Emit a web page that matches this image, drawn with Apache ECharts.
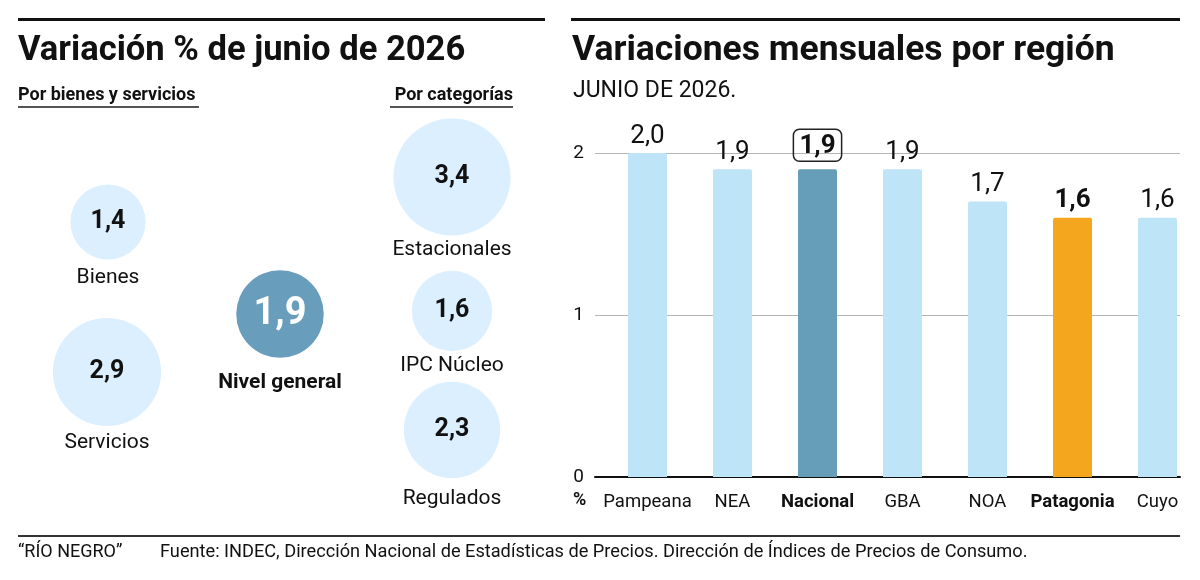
<!DOCTYPE html>
<html>
<head>
<meta charset="utf-8">
<script src="https://cdn.jsdelivr.net/npm/echarts@6/dist/echarts.min.js"></script>
<style>
html,body{margin:0;padding:0;background:#fff;}
#c{width:1200px;height:580px;}
</style>
</head>
<body>
<div id="c"></div>
<script>
// ---------- DATA ----------
var bubbleNames = ['Bienes', 'Servicios', 'Nivel general', 'Estacionales', 'IPC Núcleo', 'Regulados'];
var bubbleValues = [1.4, 2.9, 1.9, 3.4, 1.6, 2.3];

var regions = ['Pampeana', 'NEA', 'Nacional', 'GBA', 'NOA', 'Patagonia', 'Cuyo'];
var regionValues = [2.0, 1.9, 1.9, 1.9, 1.7, 1.6, 1.6];

var yTicks = [0, 1, 2];

// ---------- LAYOUT (positions in page pixels, not data) ----------
var bubbleLayout = [
  {x: 108, y: 222, gap: 8},
  {x: 107, y: 372, gap: 6},
  {x: 280, y: 314, gap: 14},
  {x: 452, y: 177, gap: 4},
  {x: 452, y: 311, gap: 4},
  {x: 452, y: 430, gap: 10}
];
var bubbleScale = 63.5; // diameter = scale * sqrt(value)
var mainBubble = 'Nivel general';
var highlight = {
  'Nacional': {color: '#669db9', boxed: true},
  'Patagonia': {color: '#f3a61e', boxed: false}
};
var baseBar = '#bee4f8';
var FONT = 'Roboto';

function fmt(v) { return v.toFixed(1).replace('.', ','); }

var bubbleData = bubbleNames.map(function (n, i) {
  var v = bubbleValues[i];
  var d = bubbleScale * Math.sqrt(v);
  var main = n === mainBubble;
  return {
    name: n,
    value: [bubbleLayout[i].x, bubbleLayout[i].y, v],
    symbolSize: d,
    itemStyle: {color: main ? '#689dbb' : '#dcefff', opacity: 1},
    label: {
      color: main ? '#ffffff' : '#111',
      fontSize: main ? 38 : 25
    }
  };
});
var bubbleNameData = bubbleNames.map(function (n, i) {
  var v = bubbleValues[i];
  var d = bubbleScale * Math.sqrt(v);
  var main = n === mainBubble;
  return {
    name: n,
    value: [bubbleLayout[i].x, bubbleLayout[i].y, v],
    symbolSize: d,
    label: {
      distance: bubbleLayout[i].gap,
      fontWeight: main ? 'bold' : 'normal'
    }
  };
});

var barData = regions.map(function (r, i) {
  var h = highlight[r];
  var item = {value: regionValues[i], itemStyle: {color: h ? h.color : baseBar}};
  if (h) {
    item.label = {fontWeight: 'bold'};
    if (h.boxed) {
      item.label = {
        fontWeight: 'bold',
        borderColor: '#222', borderWidth: 1.5, borderRadius: 6,
        padding: [4, 6, 2, 6], distance: 8
      };
    }
  }
  return item;
});

var chart = echarts.init(document.getElementById('c'));
chart.setOption({
  backgroundColor: '#fff',
  animation: false,
  textStyle: {fontFamily: FONT},
  grid: [
    {left: 0, top: 0, width: 1200, height: 580},          // bubbles (pixel space)
    {left: 605, width: 600, top: 153, bottom: 103},        // bars
    {left: 595, right: 20, top: 153, bottom: 103}          // gridlines / y labels
  ],
  xAxis: [
    {gridIndex: 0, type: 'value', min: 0, max: 1200, show: false},
    {gridIndex: 1, type: 'category', data: regions,
      axisLine: {show: false}, axisTick: {show: false},
      axisLabel: {
        interval: 0, margin: 16, fontSize: 18.5, color: '#111', fontFamily: FONT,
        formatter: function (v) { return highlight[v] ? '{b|' + v + '}' : v; },
        rich: {b: {fontWeight: 'bold', fontSize: 18.5, color: '#111', fontFamily: FONT}}
      }},
    {gridIndex: 2, type: 'value', min: 0, max: 1, show: true,
      axisLine: {show: true, onZero: true, lineStyle: {color: '#111', width: 2}},
      axisTick: {show: false}, axisLabel: {show: false}, splitLine: {show: false}}
  ],
  yAxis: [
    {gridIndex: 0, type: 'value', min: 0, max: 580, inverse: true, show: false},
    {gridIndex: 1, type: 'value', min: 0, max: 2, show: false},
    {gridIndex: 2, type: 'value', min: yTicks[0], max: yTicks[yTicks.length - 1], interval: 1,
      axisLine: {show: false}, axisTick: {show: false},
      axisLabel: {margin: 11, fontSize: 19, color: '#111', fontFamily: FONT},
      splitLine: {lineStyle: {color: '#b5b5b5', width: 1.2}}}
  ],
  series: [
    {
      type: 'scatter', xAxisIndex: 0, yAxisIndex: 0,
      symbol: 'circle', data: bubbleData, z: 2,
      emphasis: {disabled: true},
      label: {show: true, position: 'inside', fontWeight: 'bold', fontFamily: FONT,
        formatter: function (p) { return fmt(p.value[2]); }}
    },
    {
      type: 'scatter', xAxisIndex: 0, yAxisIndex: 0,
      symbol: 'circle', data: bubbleNameData, z: 3,
      emphasis: {disabled: true},
      itemStyle: {color: 'rgba(0,0,0,0)', opacity: 1},
      label: {show: true, position: 'bottom', fontSize: 21, color: '#111', fontFamily: FONT,
        formatter: function (p) { return p.name; }}
    },
    {
      type: 'bar', xAxisIndex: 1, yAxisIndex: 1,
      barWidth: 39, data: barData, z: 2,
      emphasis: {disabled: true},
      itemStyle: {borderRadius: [2, 2, 0, 0]},
      label: {show: true, position: 'top', distance: 4, fontSize: 26, color: '#111', fontFamily: FONT,
        formatter: function (p) { return fmt(p.value); }}
    }
  ],
  graphic: [
    {type: 'rect', shape: {x: 18, y: 18, width: 527, height: 3}, style: {fill: '#111'}},
    {type: 'rect', shape: {x: 571, y: 18, width: 609, height: 3}, style: {fill: '#111'}},
    {type: 'text', x: 18, y: 51, style: {text: 'Variación % de junio de 2026', font: 'bold 34.6px ' + FONT, fill: '#111', textVerticalAlign: 'middle'}},
    {type: 'text', x: 572, y: 51, style: {text: 'Variaciones mensuales por región', font: 'bold 35.5px ' + FONT, fill: '#111', textVerticalAlign: 'middle'}},
    {type: 'text', x: 573, y: 91, style: {text: 'JUNIO DE 2026.', font: '23px ' + FONT, fill: '#111', textVerticalAlign: 'middle'}},
    {type: 'text', x: 18, y: 95, style: {text: 'Por bienes y servicios', font: 'bold 18px ' + FONT, fill: '#111', textVerticalAlign: 'middle'}},
    {type: 'rect', shape: {x: 18, y: 106, width: 181, height: 2}, style: {fill: '#555'}},
    {type: 'text', x: 513, y: 95, style: {text: 'Por categorías', font: 'bold 18px ' + FONT, fill: '#111', textVerticalAlign: 'middle', textAlign: 'right'}},
    {type: 'rect', shape: {x: 390, y: 106, width: 123, height: 2}, style: {fill: '#555'}},
    {type: 'text', x: 573, y: 500, style: {text: '%', font: 'bold 18px ' + FONT, fill: '#111', textVerticalAlign: 'middle'}},
    {type: 'rect', shape: {x: 18, y: 535, width: 1162, height: 2}, style: {fill: '#333'}},
    {type: 'text', x: 18, y: 552, style: {text: '\u201cRÍO NEGRO\u201d', font: '18px ' + FONT, fill: '#111', textVerticalAlign: 'middle'}},
    {type: 'text', x: 160, y: 552, style: {text: 'Fuente: INDEC, Dirección Nacional de Estadísticas de Precios. Dirección de Índices de Precios de Consumo.', font: '18.2px ' + FONT, fill: '#111', textVerticalAlign: 'middle'}}
  ]
});
</script>
</body>
</html>
